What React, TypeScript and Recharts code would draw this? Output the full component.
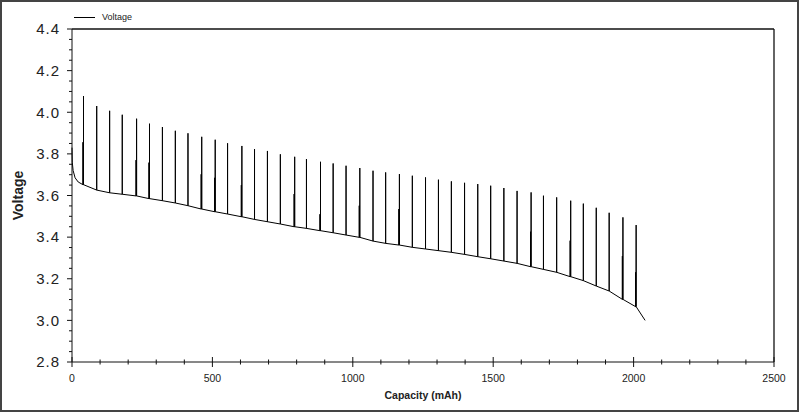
import { LineChart, Line, XAxis, YAxis, ReferenceLine, Label } from "recharts";

// rest period right after the start of discharge
const startCap = [0, 1, 4, 11, 22];
const startVolt = [3.83, 3.76, 3.72, 3.685, 3.665];

// one pulse every ~47 mAh
const pulseCap = [
  39, 88, 134, 179, 228, 274, 322, 368, 413, 460, 508, 554, 603, 650, 696, 742, 791, 835, 883, 930, 976, 1023,
  1072, 1117, 1164, 1212, 1259, 1305, 1351, 1398, 1445, 1491, 1538, 1585, 1633, 1679, 1726, 1774, 1821, 1867,
  1913, 1960, 2007,
];
const pulseBase = [
  3.652, 3.626, 3.613, 3.606, 3.598, 3.585, 3.575, 3.564, 3.551, 3.535, 3.522, 3.511, 3.498, 3.485, 3.474, 3.463,
  3.45, 3.442, 3.431, 3.421, 3.41, 3.399, 3.381, 3.37, 3.362, 3.351, 3.343, 3.335, 3.327, 3.317, 3.306, 3.296,
  3.285, 3.274, 3.258, 3.245, 3.231, 3.21, 3.191, 3.165, 3.141, 3.101, 3.066,
];
const pulsePeak = [
  4.078, 4.03, 4.007, 3.988, 3.969, 3.945, 3.929, 3.911, 3.899, 3.882, 3.868, 3.851, 3.838, 3.823, 3.814, 3.798,
  3.786, 3.775, 3.762, 3.754, 3.743, 3.732, 3.719, 3.711, 3.703, 3.695, 3.687, 3.676, 3.668, 3.661, 3.655, 3.647,
  3.636, 3.622, 3.615, 3.599, 3.591, 3.575, 3.561, 3.541, 3.517, 3.495, 3.458,
];
// some pulses have a second, shorter excursion
const pulseMid: (number | null)[] = [
  3.856, null, null, null, 3.77, 3.758, null, null, null, 3.702, 3.685, null, 3.65, null, null, null, 3.607, null,
  3.51, null, null, 3.551, null, null, 3.535, null, null, null, null, null, null, null, null, null, 3.426, null,
  null, 3.383, null, null, null, 3.309, 3.231,
];

const endCap = [2041];
const endVolt = [3.0];

const xTicks = Array.from({ length: 26 }, (_, i) => i * 100);
const yTicks = Array.from({ length: 33 }, (_, i) => Math.round((2.8 + i * 0.05) * 100) / 100);

const FONT = '"Liberation Sans", Arial, sans-serif';
const INK = "#222";
const AXIS = "#111";

interface Point {
  cap: number;
  v: number;
}

function buildPoints(): Point[] {
  const pts: Point[] = [];
  startCap.forEach((c, i) => pts.push({ cap: c, v: startVolt[i] }));
  pulseCap.forEach((c, i) => {
    const base = pulseBase[i];
    const mid = pulseMid[i];
    let at = c;
    if (mid != null) {
      pts.push({ cap: at, v: base }, { cap: at, v: mid }, { cap: at, v: base });
      at = c + 2;
    }
    pts.push({ cap: at, v: base }, { cap: at, v: pulsePeak[i] }, { cap: at, v: base });
  });
  endCap.forEach((c, i) => pts.push({ cap: c, v: endVolt[i] }));
  return pts;
}

const BottomTick = (props: any) => {
  const { x, y, payload } = props;
  const major = payload.value % 500 === 0;
  const h = major ? 5 : 2.5;
  return (
    <g>
      <line x1={x} x2={x} y1={y - h} y2={y + h} stroke={AXIS} />
      {major && (
        <text x={x} y={y + 19.5} textAnchor="middle" fontSize={10.5} fontFamily={FONT} fill={INK}>
          {payload.value}
        </text>
      )}
    </g>
  );
};

const TopTick = (props: any) => {
  const { x, y, payload } = props;
  if (payload.value === 0 || payload.value === 2500) return <g />;
  return <line x1={x} x2={x} y1={y} y2={y + 3} stroke={AXIS} />;
};

const LeftTick = (props: any) => {
  const { x, y, payload } = props;
  const v = payload.value as number;
  const major = Math.abs(v * 5 - Math.round(v * 5)) < 1e-6;
  return (
    <g>
      <line x1={x - (major ? 5 : 3)} x2={x} y1={y} y2={y} stroke={AXIS} />
      {major && (
        <text
          x={x - 12}
          y={y + 5.3}
          textAnchor="end"
          fontSize={15}
          letterSpacing={1}
          fontFamily={FONT}
          fill={INK}
        >
          {v.toFixed(1)}
        </text>
      )}
    </g>
  );
};

const YTitle = (props: any) => {
  const vb = props.viewBox;
  const cx = vb.x + 23;
  const cy = vb.y + vb.height / 2;
  return (
    <text
      x={cx}
      y={cy}
      transform={`rotate(-90, ${cx}, ${cy})`}
      textAnchor="middle"
      fontSize={14}
      fontWeight="bold"
      fontFamily={FONT}
      fill={INK}
    >
      Voltage
    </text>
  );
};

const XTitle = (props: any) => {
  const vb = props.viewBox;
  return (
    <text
      x={vb.x + vb.width / 2}
      y={vb.y + 37}
      textAnchor="middle"
      fontSize={10.5}
      fontWeight="bold"
      fontFamily={FONT}
      fill={INK}
    >
      Capacity (mAh)
    </text>
  );
};

export default function App() {
  const data = buildPoints();

  return (
    <div style={{ position: "absolute", left: 0, top: 0, width: 799, height: 412, background: "#fff" }}>
      <LineChart width={799} height={412} data={data} margin={{ top: 29, right: 25, bottom: 0, left: 0 }}>
        <XAxis
          dataKey="cap"
          type="number"
          domain={[0, 2500]}
          ticks={xTicks}
          interval={0}
          height={50}
          tickSize={0}
          tickMargin={0}
          tickLine={false}
          tick={<BottomTick />}
          axisLine={{ stroke: AXIS }}
        >
          <Label content={<XTitle />} />
        </XAxis>
        <XAxis
          xAxisId="top"
          orientation="top"
          type="number"
          domain={[0, 2500]}
          ticks={xTicks}
          interval={0}
          height={0}
          tickSize={0}
          tickMargin={0}
          tickLine={false}
          tick={<TopTick />}
          axisLine={false}
        />
        <YAxis
          type="number"
          domain={[2.8, 4.4]}
          ticks={yTicks}
          interval={0}
          width={72}
          tickSize={0}
          tickMargin={0}
          tickLine={false}
          tick={<LeftTick />}
          axisLine={{ stroke: AXIS }}
        >
          <Label content={<YTitle />} />
        </YAxis>
        <ReferenceLine y={4.4} stroke={AXIS} strokeWidth={1.3} />
        <ReferenceLine x={2500} stroke={AXIS} strokeWidth={1.3} />
        <Line
          type="linear"
          dataKey="v"
          stroke="#000"
          strokeWidth={1}
          dot={false}
          activeDot={false}
          isAnimationActive={false}
        />
      </LineChart>
      <div
        style={{
          position: "absolute",
          left: 74,
          top: 12,
          display: "flex",
          alignItems: "center",
          fontFamily: FONT,
          fontSize: 9,
          color: INK,
        }}
      >
        <span style={{ display: "inline-block", width: 21, height: 1, background: "#000", marginRight: 7 }} />
        <span>Voltage</span>
      </div>
      <div
        style={{
          position: "absolute",
          inset: 0,
          border: "2px solid #444",
          boxSizing: "border-box",
          pointerEvents: "none",
        }}
      />
    </div>
  );
}
